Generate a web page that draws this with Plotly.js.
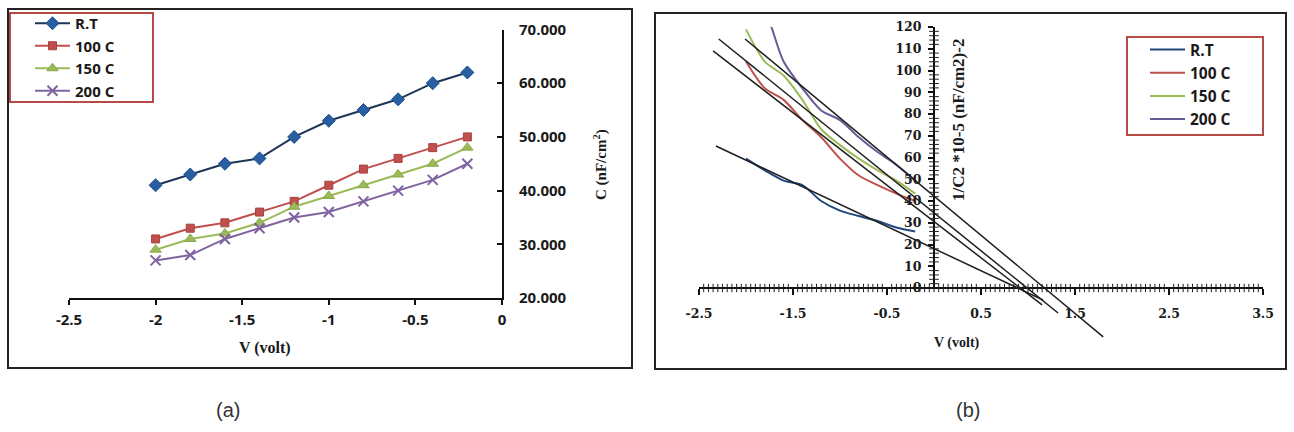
<!DOCTYPE html>
<html>
<head>
<meta charset="utf-8">
<script src="https://cdn.plot.ly/plotly-3.0.1.min.js"></script>
<style>
html,body{margin:0;padding:0;background:#fff;}
#chart{width:1294px;height:432px;}
</style>
</head>
<body>
<div id="chart"></div>
<script>
// ---------- data: panel (a) C-V ----------
const voltage = [-2, -1.8, -1.6, -1.4, -1.2, -1, -0.8, -0.6, -0.4, -0.2];
const capRT  = [41, 43, 45, 46, 50, 53, 55, 57, 60, 62];
const cap100 = [31, 33, 34, 36, 38, 41, 44, 46, 48, 50];
const cap150 = [29, 31, 32, 34, 37, 39, 41, 43, 45, 48];
const cap200 = [27, 28, 31, 33, 35, 36, 38, 40, 42, 45];
const seriesNames = ['R.T', '100 C', '150 C', '200 C'];

// ---------- data: panel (b) 1/C^2 - V ----------
const invRT  = [59.5, 54.1, 49.4, 47.3, 40.0, 35.6, 33.1, 30.8, 27.8, 26.0];
const inv100 = [104.1, 91.8, 86.5, 77.2, 69.3, 59.5, 51.7, 47.3, 43.4, 40.0];
const inv150 = [118.9, 104.1, 97.7, 86.5, 73.0, 65.7, 59.5, 54.1, 49.4, 43.4];
const inv200 = [137.2, 127.6, 104.1, 91.8, 81.6, 77.2, 69.3, 62.5, 56.7, 49.4];
// straight extrapolation lines (end points)
const fitRTx  = [-2.32, 1.16], fitRTy  = [65.3, -5.5];
const fit100x = [-2.35, 1.15], fit100y = [109.0, -7.8];
const fit150x = [-2.29, 1.32], fit150y = [114.5, -11.5];
const fit200x = [-2.01, 1.80], fit200y = [114.5, -22.5];

// ---------- tick labels ----------
const aXticks = [-2.5, -2, -1.5, -1, -0.5, 0];
const aXlabels = ['-2.5', '-2', '-1.5', '-1', '-0.5', '0'];
const aYticks = [20, 30, 40, 50, 60, 70];
const aYlabels = ['20.000', '30.000', '40.000', '50.000', '60.000', '70.000'];
const bXticks = [-2.5, -1.5, -0.5, 0.5, 1.5, 2.5, 3.5];
const bXlabels = ['-2.5', '-1.5', '-0.5', '0.5', '1.5', '2.5', '3.5'];
const bYticks = [0, 10, 20, 30, 40, 50, 60, 70, 80, 90, 100, 110, 120];
const bYlabels = ['0', '10', '20', '30', '40', '50', '60', '70', '80', '90', '100', '110', '120'];

// ---------- helpers (pixel -> paper) ----------
const W = 1294, H = 432;
const px = v => v / W;
const py = v => 1 - v / H;

// minor tick positions (ruler look) for panel (b)
const bXminor = [];
for (let i = 1; i < 120; i++) { if (i % 20 !== 0) bXminor.push(Math.round((-2.5 + i * 0.05) * 100) / 100); }
const bYminor = [];
for (let v = 2; v < 120; v += 2) { if (v % 10 !== 0) bYminor.push(v); }

const colA = {
  rtLine: '#1d3557', rtMark: '#2a5ea3',
  c100: '#c0504d', c150: '#9bbb59', c200: '#8064a2'
};
const colB = ['#1f497d', '#c0504d', '#9bbb59', '#6a5a96'];

const sansBold = {family: 'Open Sans, sans-serif', size: 15, color: '#1a1a1a', weight: 'bold'};
const serifBold = (s) => ({family: 'Liberation Serif, Times New Roman, serif', size: s, color: '#1a1a1a', weight: 'bold'});
const serifTick = {family: 'DejaVu Serif, serif', size: 12.5, color: '#1a1a1a', weight: 'bold'};

const traces = [
  {x: voltage, y: capRT, name: seriesNames[0], mode: 'lines+markers', xaxis: 'x', yaxis: 'y', legend: 'legend',
   line: {color: colA.rtLine, width: 2}, marker: {symbol: 'diamond', size: 10, color: colA.rtMark, line: {color: '#1f4e8a', width: 1}}},
  {x: voltage, y: cap100, name: seriesNames[1], mode: 'lines+markers', xaxis: 'x', yaxis: 'y', legend: 'legend',
   line: {color: colA.c100, width: 2}, marker: {symbol: 'square', size: 8, color: colA.c100, line: {color: '#a8403d', width: 1}}},
  {x: voltage, y: cap150, name: seriesNames[2], mode: 'lines+markers', xaxis: 'x', yaxis: 'y', legend: 'legend',
   line: {color: colA.c150, width: 2}, marker: {symbol: 'triangle-up', size: 10, color: colA.c150, line: {color: '#8aa84d', width: 1}}},
  {x: voltage, y: cap200, name: seriesNames[3], mode: 'lines+markers', xaxis: 'x', yaxis: 'y', legend: 'legend',
   line: {color: colA.c200, width: 2}, marker: {symbol: 'x-thin', size: 10, color: colA.c200, line: {color: colA.c200, width: 2}}},

  // minor tick "ruler" marks of panel (b), placed through the axes
  {x: bXminor, y: bXminor.map(() => 0), mode: 'markers', xaxis: 'x3', yaxis: 'y3', showlegend: false, hoverinfo: 'skip',
   marker: {symbol: 'line-ns-open', size: 6, color: '#222', line: {color: '#222', width: 1}}},
  {x: bYminor.map(() => 0), y: bYminor, mode: 'markers', xaxis: 'x3', yaxis: 'y3', showlegend: false, hoverinfo: 'skip',
   marker: {symbol: 'line-ew-open', size: 7, color: '#222', line: {color: '#222', width: 1}}},

  {x: voltage, y: invRT, name: seriesNames[0], mode: 'lines', xaxis: 'x2', yaxis: 'y2', legend: 'legend2',
   line: {color: colB[0], width: 2, shape: 'spline', smoothing: 0.8}},
  {x: voltage, y: inv100, name: seriesNames[1], mode: 'lines', xaxis: 'x2', yaxis: 'y2', legend: 'legend2',
   line: {color: colB[1], width: 2, shape: 'spline', smoothing: 0.8}},
  {x: voltage, y: inv150, name: seriesNames[2], mode: 'lines', xaxis: 'x2', yaxis: 'y2', legend: 'legend2',
   line: {color: colB[2], width: 2, shape: 'spline', smoothing: 0.8}},
  {x: voltage, y: inv200, name: seriesNames[3], mode: 'lines', xaxis: 'x2', yaxis: 'y2', legend: 'legend2',
   line: {color: colB[3], width: 2, shape: 'spline', smoothing: 0.8}},

  {x: fitRTx, y: fitRTy, mode: 'lines', xaxis: 'x3', yaxis: 'y3', showlegend: false, line: {color: '#1e1e1e', width: 1.5}},
  {x: fit100x, y: fit100y, mode: 'lines', xaxis: 'x3', yaxis: 'y3', showlegend: false, line: {color: '#1e1e1e', width: 1.5}},
  {x: fit150x, y: fit150y, mode: 'lines', xaxis: 'x3', yaxis: 'y3', showlegend: false, line: {color: '#1e1e1e', width: 1.5}},
  {x: fit200x, y: fit200y, mode: 'lines', xaxis: 'x3', yaxis: 'y3', showlegend: false, line: {color: '#1e1e1e', width: 1.5}}
];

const layout = {
  width: W, height: H,
  margin: {l: 0, r: 0, t: 0, b: 0},
  paper_bgcolor: '#fff', plot_bgcolor: 'rgba(0,0,0,0)',
  showlegend: true,
  xaxis: {
    domain: [px(69), px(502)], range: [-2.5, 0], anchor: 'y',
    tickmode: 'array', tickvals: aXticks, ticktext: aXlabels,
    showline: true, linecolor: '#111', linewidth: 2, ticks: 'outside', ticklen: 5, tickwidth: 2, tickcolor: '#111',
    showgrid: false, zeroline: false, tickfont: sansBold, ticklabelstandoff: 2
  },
  yaxis: {
    domain: [py(298), py(29.5)], range: [20, 70], anchor: 'x', side: 'right',
    tickmode: 'array', tickvals: aYticks, ticktext: aYlabels,
    showline: true, linecolor: '#111', linewidth: 2, ticks: 'inside', ticklen: 5, tickwidth: 2, tickcolor: '#111',
    showgrid: false, zeroline: false, tickfont: sansBold, ticklabelstandoff: 12
  },
  // panel (b): curves + labelled axes (0..120)
  xaxis2: {
    domain: [px(699), px(1263)], range: [-2.5, 3.5], anchor: 'free', position: py(288),
    tickmode: 'array', tickvals: bXticks, ticktext: bXlabels,
    showline: true, linecolor: '#111', linewidth: 2, ticks: 'outside', ticklen: 6, tickwidth: 2, tickcolor: '#111',
    showgrid: false, zeroline: false, tickfont: serifTick, ticklabelstandoff: 8
  },
  yaxis2: {
    domain: [py(288), py(27)], range: [0, 120], anchor: 'free', position: px(934),
    tickmode: 'array', tickvals: bYticks, ticktext: bYlabels,
    showline: true, linecolor: '#111', linewidth: 2, ticks: 'outside', ticklen: 5, tickwidth: 2, tickcolor: '#111',
    showgrid: false, zeroline: false, tickfont: serifTick, ticklabelstandoff: 4
  },
  // panel (b): hidden axes for the extrapolation lines (they extend below zero)
  xaxis3: {domain: [px(699), px(1263)], range: [-2.5, 3.5], anchor: 'y3', visible: false},
  yaxis3: {domain: [py(353.25), py(27)], range: [-30, 120], anchor: 'x3', visible: false},
  legend: {
    x: px(30), y: py(7), xanchor: 'left', yanchor: 'top',
    bgcolor: 'rgba(0,0,0,0)', borderwidth: 0, itemwidth: 35,
    font: {family: 'Open Sans, sans-serif', size: 15, color: '#1a1a1a', weight: 'bold'},
    tracegroupgap: 0
  },
  legend2: {
    x: px(1145), y: py(33), xanchor: 'left', yanchor: 'top',
    bgcolor: 'rgba(0,0,0,0)', borderwidth: 0, itemwidth: 35,
    font: {family: 'Open Sans, sans-serif', size: 15.5, color: '#1a1a1a', weight: 'bold'},
    tracegroupgap: 0
  },
  shapes: [
    // panel frames
    {type: 'rect', xref: 'paper', yref: 'paper', x0: px(8), x1: px(632), y0: py(368), y1: py(9),
     line: {color: '#222', width: 2}},
    {type: 'rect', xref: 'paper', yref: 'paper', x0: px(655), x1: px(1286), y0: py(369), y1: py(13),
     line: {color: '#222', width: 2}},
    // legend boxes
    {type: 'rect', xref: 'paper', yref: 'paper', x0: px(10), x1: px(153), y0: py(102), y1: py(13),
     line: {color: '#b54a47', width: 2}},
    {type: 'rect', xref: 'paper', yref: 'paper', x0: px(1127), x1: px(1263), y0: py(135), y1: py(37),
     line: {color: '#b54a47', width: 2}}
  ],
  annotations: [
    {text: 'V (volt)', xref: 'paper', yref: 'paper', x: px(265), y: py(348), showarrow: false,
     xanchor: 'center', yanchor: 'middle', font: serifBold(16)},
    {text: 'C (nF/cm<sup>2</sup>)', xref: 'paper', yref: 'paper', x: px(600), y: py(165), showarrow: false,
     textangle: -90, xanchor: 'center', yanchor: 'middle', font: serifBold(15)},
    {text: 'V (volt)', xref: 'paper', yref: 'paper', x: px(957), y: py(343), showarrow: false,
     xanchor: 'center', yanchor: 'middle', font: serifBold(14)},
    {text: '1/C2 *10-5 (nF/cm2)-2', xref: 'paper', yref: 'paper', x: px(958), y: py(120), showarrow: false,
     textangle: -90, xanchor: 'center', yanchor: 'middle', font: serifBold(17)},
    {text: '(a)', xref: 'paper', yref: 'paper', x: px(228), y: py(410), showarrow: false,
     xanchor: 'center', yanchor: 'middle', font: {family: 'Liberation Sans Narrow, Arial Narrow, sans-serif', size: 20, color: '#333'}},
    {text: '(b)', xref: 'paper', yref: 'paper', x: px(968), y: py(410), showarrow: false,
     xanchor: 'center', yanchor: 'middle', font: {family: 'Liberation Sans Narrow, Arial Narrow, sans-serif', size: 20, color: '#333'}}
  ]
};

Plotly.newPlot('chart', traces, layout, {staticPlot: true, displayModeBar: false});
</script>
</body>
</html>
